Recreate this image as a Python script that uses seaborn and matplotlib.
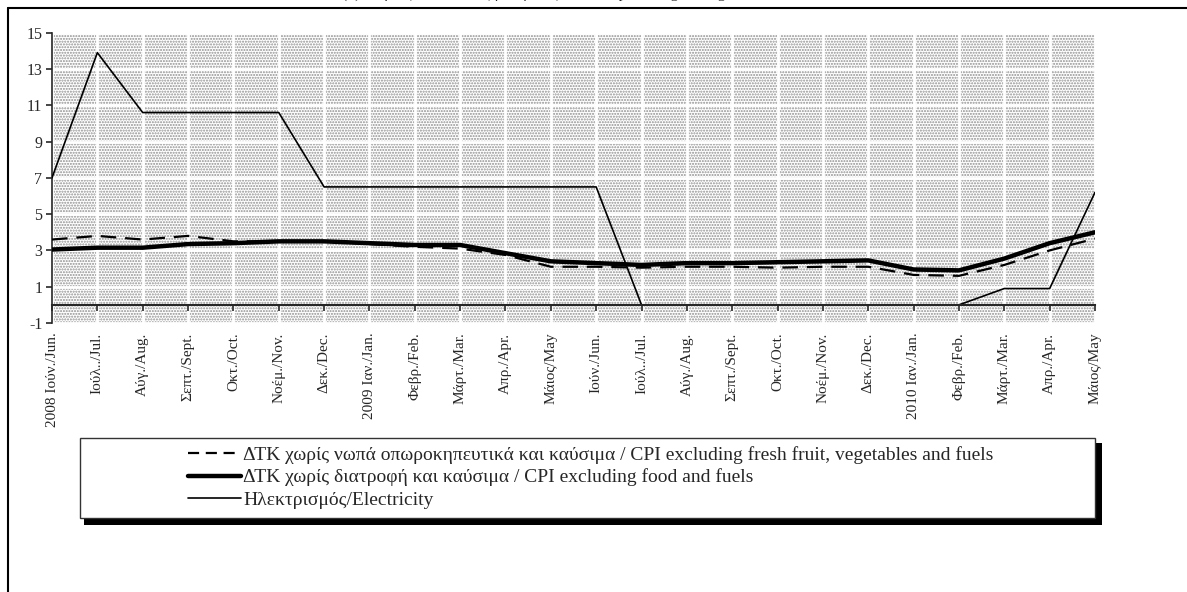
import numpy as np
import pandas as pd
import matplotlib
matplotlib.use('Agg')
import matplotlib.pyplot as plt
from matplotlib.patches import Rectangle
from matplotlib.lines import Line2D
import seaborn as sns

# monthly tick labels, June 2008 - May 2010
months = ['2008 Ιούν./Jun.', 'Ιούλ../Jul.', 'Αύγ./Aug.', 'Σεπτ./Sept.', 'Οκτ./Oct.',
          'Νοέμ./Nov.', 'Δεκ./Dec.', '2009 Ιαν./Jan.', 'Φεβρ./Feb.', 'Μάρτ./Mar.',
          'Απρ./Apr.', 'Μάιος/May', 'Ιούν./Jun.', 'Ιούλ../Jul.', 'Αύγ./Aug.',
          'Σεπτ./Sept.', 'Οκτ./Oct.', 'Νοέμ./Nov.', 'Δεκ./Dec.', '2010 Ιαν./Jan.',
          'Φεβρ./Feb.', 'Μάρτ./Mar.', 'Απρ./Apr.', 'Μάιος/May']

# series values (annual % change)
cpi_ex_fresh_fuels = [3.6, 3.8, 3.6, 3.8, 3.5, 3.5, 3.5, 3.35, 3.2, 3.1, 2.75, 2.1,
                      2.1, 2.05, 2.1, 2.1, 2.05, 2.1, 2.1, 1.65, 1.6, 2.2, 3.0, 3.65]
cpi_ex_food_fuels = [3.05, 3.15, 3.15, 3.35, 3.4, 3.5, 3.5, 3.4, 3.3, 3.3, 2.85, 2.4,
                     2.3, 2.2, 2.3, 2.3, 2.35, 2.4, 2.45, 1.95, 1.9, 2.55, 3.4, 4.0]
electricity = [7.0, 13.9, 10.6, 10.6, 10.6, 10.6, 6.5, 6.5, 6.5, 6.5, 6.5, 6.5,
               6.5, 0.0, 0.0, 0.0, 0.0, 0.0, 0.0, 0.0, 0.0, 0.9, 0.9, 6.2]

labels = ['ΔΤΚ χωρίς νωπά οπωροκηπευτικά και καύσιμα / CPI excluding fresh fruit, vegetables and fuels',
          'ΔΤΚ χωρίς διατροφή και καύσιμα / CPI excluding food and fuels',
          'Ηλεκτρισμός/Electricity']

df = pd.DataFrame({'idx': np.arange(len(months)),
                   'fresh': cpi_ex_fresh_fuels,
                   'food': cpi_ex_food_fuels,
                   'elec': electricity})

sns.set_style('white')
plt.rcParams['font.family'] = ['Liberation Serif', 'DejaVu Serif']
plt.rcParams['axes.unicode_minus'] = False

fig = plt.figure(figsize=(11.87, 5.92), dpi=100)
ax = fig.add_axes([52 / 1187, 1 - 323 / 592, (1095 - 52) / 1187, (323 - 32.7) / 592])

# stippled plot background with white grid
ax.add_patch(Rectangle((0, -1), 23, 16, facecolor='white', edgecolor='#909090',
                       hatch='......', lw=0, zorder=0.1))
for yv in range(-1, 16, 2):
    ax.axhline(yv, color='white', lw=2, zorder=0.3)
for xv in df['idx']:
    ax.axvline(xv, color='white', lw=2, zorder=0.3)

sns.lineplot(data=df, x='idx', y='fresh', ax=ax, color='black', lw=1.6, zorder=3)
ax.lines[-1].set_dashes([7, 4])
sns.lineplot(data=df, x='idx', y='food', ax=ax, color='black', lw=3.2, zorder=4)
sns.lineplot(data=df, x='idx', y='elec', ax=ax, color='black', lw=1.2, zorder=5)

for s in ['top', 'right']:
    ax.spines[s].set_visible(False)
ax.spines['bottom'].set_position(('data', 0))
ax.spines['bottom'].set_linewidth(1.5)
ax.spines['left'].set_linewidth(1.2)
ax.spines['bottom'].set_zorder(6)

ax.set_xlim(0, 23)
ax.set_ylim(-1, 15)
ax.set_yticks(range(-1, 16, 2))
ax.set_xticks(df['idx'])
ax.set_xticklabels(months, rotation=90, fontsize=11)
ax.set_xlabel('')
ax.set_ylabel('')
ax.tick_params(axis='y', labelsize=11.5, direction='out', length=4, width=1.2, pad=3,
               left=True)
ax.tick_params(axis='x', direction='out', length=4, width=1.2, pad=16, bottom=True)

# legend box with drop shadow
W, H = 1187, 592
fig.patches.append(Rectangle((84 / W, 1 - 525 / H), (1102 - 84) / W, (525 - 443) / H,
                             transform=fig.transFigure, facecolor='black', lw=0, zorder=1))
fig.patches.append(Rectangle((80 / W, 1 - 518 / H), (1095 - 80) / W, (518 - 438) / H,
                             transform=fig.transFigure, facecolor='white',
                             edgecolor='#333333', lw=1, zorder=2))

handles = [Line2D([], [], color='black', lw=1.6, dashes=[5, 3]),
           Line2D([], [], color='black', lw=3.2),
           Line2D([], [], color='black', lw=1.2)]
leg = fig.legend(handles, labels, loc='upper left', bbox_to_anchor=(188 / W, 1 - 446 / H),
                 frameon=False, fontsize=14, handlelength=2.7, handletextpad=0.15,
                 borderpad=0, borderaxespad=0, labelspacing=0.24)
leg.set_zorder(5)

# outer frame
fig.add_artist(Line2D([8 / W, 1], [1 - 8 / H, 1 - 8 / H], transform=fig.transFigure,
                      color='black', lw=1.5))
fig.add_artist(Line2D([8 / W, 8 / W], [0, 1 - 8 / H], transform=fig.transFigure,
                      color='black', lw=1.5))

# title cut off at the top edge
fig.text(540 / W, 1.0045, '(α) Ετήσιες ποσοστιαίες μεταβολές / Annual percentage changes',
         ha='center', va='baseline', fontsize=11)

fig.savefig('out.png', dpi=100)
